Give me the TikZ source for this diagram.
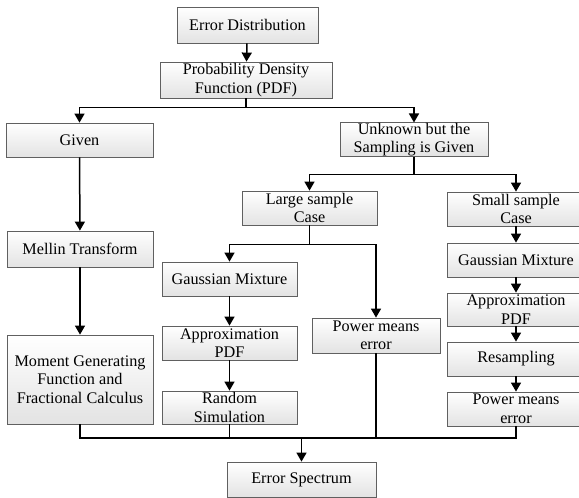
\documentclass[tikz,border=0pt]{standalone}
\usepackage{fontspec}
\setmainfont{Liberation Serif}
\usetikzlibrary{arrows.meta}
\begin{document}
\begin{tikzpicture}[x=1pt,y=-1pt,
  box/.style={rectangle, draw=gray!75!black, line width=0.8pt, top color=white, bottom color=gray!22,
    align=center, inner sep=0pt, font=\fontsize{16.2}{18.5}\selectfont},
  link/.style={line width=1.5pt},
  arr/.style={link, -{Triangle[width=10pt,length=9pt]}}]
\useasboundingbox (0,0) rectangle (579,498);
\node[box, minimum width=141pt, minimum height=36pt] (ed) at (247.5,25){Error Distribution};
\node[box, minimum width=172pt, minimum height=36pt] (pdf) at (246,80){Probability Density\\Function (PDF)};
\node[box, minimum width=147pt, minimum height=34pt] (given) at (79.5,140){Given};
\node[box, minimum width=148pt, minimum height=33pt] (unk) at (414,139.5){Unknown but the\\Sampling is Given};
\node[box, minimum width=146pt, minimum height=36pt] (mellin) at (80,249){Mellin Transform};
\node[box, minimum width=146pt, minimum height=89pt] (mgf) at (80,379.5){Moment Generating\\Function and\\Fractional Calculus};
\node[box, minimum width=135pt, minimum height=34pt] (large) at (309.5,208){Large sample\\Case};
\node[box, minimum width=138pt, minimum height=34pt] (small) at (516,209){Small sample\\Case};
\node[box, minimum width=135pt, minimum height=34pt] (gml) at (229.5,279){Gaussian Mixture};
\node[box, minimum width=135pt, minimum height=34pt] (apl) at (229.5,343){Approximation\\PDF};
\node[box, minimum width=135pt, minimum height=33pt] (rnd) at (229.5,407.5){Random\\Simulation};
\node[box, minimum width=128pt, minimum height=35pt] (pwm) at (376,335.5){Power means\\error};
\node[box, minimum width=138pt, minimum height=34pt] (gmr) at (516,260){Gaussian Mixture};
\node[box, minimum width=138pt, minimum height=33pt] (apr) at (516,309.5){Approximation\\PDF};
\node[box, minimum width=138pt, minimum height=34pt] (res) at (516,359){Resampling};
\node[box, minimum width=138pt, minimum height=34pt] (pwr) at (516,409){Power means\\error};
\node[box, minimum width=149pt, minimum height=35pt] (es) at (301.5,479.5){Error Spectrum};
\coordinate (join) at (301.5,438);
\draw[arr](ed) -- (pdf);
\draw[arr](pdf.south) -- ++(0,9) -| (given.north);
\draw[arr](pdf.south) -- ++(0,9) -| (unk.north);
\draw[arr](given) -- (mellin);
\draw[arr](mellin) -- (mgf);
\draw[arr](unk.south) -- ++(0,18) -| (large.north);
\draw[arr](unk.south) -- ++(0,18) -| (small.north);
\draw[arr](large.south) -- ++(0,19) -| (gml.north);
\draw[arr](large.south) -- ++(0,19) -| (pwm.north);
\draw[arr](gml) -- (apl);
\draw[arr](apl) -- (rnd);
\draw[arr](small) -- (gmr);
\draw[arr](gmr) -- (apr);
\draw[arr](apr) -- (res);
\draw[arr](res) -- (pwr);
\draw[link](mgf.south) |- (join);
\draw[link](rnd.south) |- (join);
\draw[link](pwm.south) |- (join);
\draw[link](pwr.south) |- (join);
\draw[arr](join) -- (es);
\end{tikzpicture}
\end{document}
